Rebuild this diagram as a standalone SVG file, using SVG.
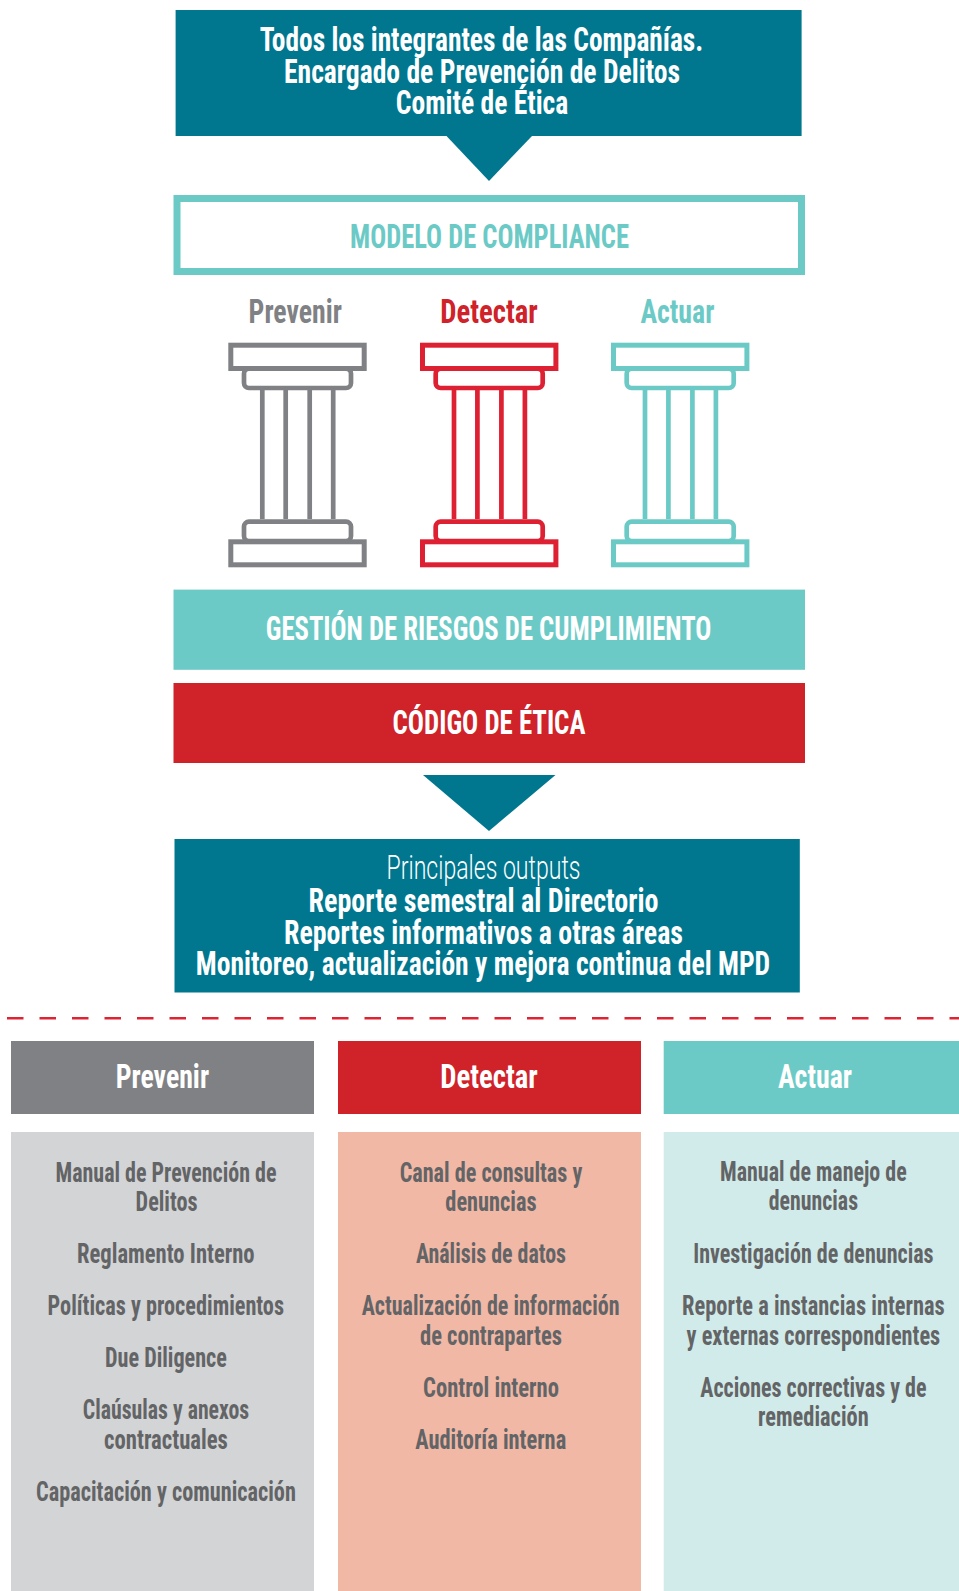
<svg xmlns="http://www.w3.org/2000/svg" width="959" height="1591" viewBox="0 0 959 1591">
<style>
text{font-family:"Liberation Sans Narrow","Roboto Condensed","Liberation Sans",sans-serif;text-anchor:middle;font-weight:700}
.w{fill:#fff}
.big{font-size:33px}
.lt{font-family:"Roboto","Liberation Sans",sans-serif;font-weight:300}
.body{font-size:27px;fill:#636466}
.ln{fill:none;stroke:currentColor;stroke-width:5}
.th{fill:none;stroke:currentColor;stroke-width:4.7}
</style>
<defs>
<g id="pillar">
<rect class="ln" x="230.8" y="345.2" width="133.4" height="23.3"/>
<rect class="th" x="244" y="368.7" width="107" height="19.3" rx="5"/>
<path class="th" d="M262.3 390V519M285.7 390V519M309.7 390V519M333.2 390V519"/>
<rect class="th" x="244" y="521.6" width="107" height="19.4" rx="5"/>
<rect class="ln" x="230.8" y="541.8" width="133.4" height="23"/>
</g>
</defs>
<rect width="959" height="1591" fill="#fff"/>
<g id="connectors" fill="#00778F">
<path d="M446.5 136H532L489 181Z"/>
<path d="M423 775H555.5L489 831Z"/>
<path d="M7 1018.3H959" fill="none" stroke="#DE2433" stroke-width="2.6" stroke-dasharray="16.5 16"/>
</g>
<g id="node-responsables">
<rect x="175.6" y="10" width="626" height="126" fill="#00778F"/>
<text class="big w" x="481.5" y="51" textLength="443.5" lengthAdjust="spacingAndGlyphs">Todos los integrantes de las Compañías.</text>
<text class="big w" x="482" y="82.5" textLength="396" lengthAdjust="spacingAndGlyphs">Encargado de Prevención de Delitos</text>
<text class="big w" x="482" y="114" textLength="172.5" lengthAdjust="spacingAndGlyphs">Comité de Ética</text>
</g>
<g id="node-modelo">
<rect x="177" y="198.5" width="624.5" height="73" fill="#fff" stroke="#6CCAC6" stroke-width="7"/>
<text class="big" fill="#6CCAC6" x="489.5" y="248" textLength="279" lengthAdjust="spacingAndGlyphs">MODELO DE COMPLIANCE</text>
</g>
<g id="node-pilar-prevenir" color="#808184">
<text class="big" fill="#808184" x="295.3" y="323" textLength="93.4" lengthAdjust="spacingAndGlyphs">Prevenir</text>
<use href="#pillar"/>
</g>
<g id="node-pilar-detectar" color="#DE2033">
<text class="big" fill="#CF2229" x="489" y="323" textLength="97.4" lengthAdjust="spacingAndGlyphs">Detectar</text>
<use href="#pillar" x="191.7"/>
</g>
<g id="node-pilar-actuar" color="#6CCAC6">
<text class="big" fill="#6CCAC6" x="677.4" y="323" textLength="74" lengthAdjust="spacingAndGlyphs">Actuar</text>
<use href="#pillar" x="382.7"/>
</g>
<g id="node-gestion">
<rect x="173.5" y="589.6" width="631.5" height="80.2" fill="#6CCAC6"/>
<text class="big w" x="488.6" y="639.5" textLength="445.5" lengthAdjust="spacingAndGlyphs">GESTIÓN DE RIESGOS DE CUMPLIMIENTO</text>
</g>
<g id="node-codigo">
<rect x="173.5" y="683" width="631.5" height="80" fill="#CF2229"/>
<text class="big w" x="489" y="734" textLength="192.8" lengthAdjust="spacingAndGlyphs">CÓDIGO DE ÉTICA</text>
</g>
<g id="node-outputs">
<rect x="174.5" y="839" width="625.3" height="153.5" fill="#00778F"/>
<text class="big w lt" x="483.5" y="879" textLength="194" lengthAdjust="spacingAndGlyphs">Principales outputs</text>
<text class="big w" x="483.5" y="912" textLength="350" lengthAdjust="spacingAndGlyphs">Reporte semestral al Directorio</text>
<text class="big w" x="483.5" y="944" textLength="399" lengthAdjust="spacingAndGlyphs">Reportes informativos a otras áreas</text>
<text class="big w" x="483" y="975" textLength="574.4" lengthAdjust="spacingAndGlyphs">Monitoreo, actualización y mejora continua del MPD</text>
</g>
<g id="node-col-prevenir">
<rect x="11" y="1041" width="303" height="73" fill="#808184"/>
<text class="big w" x="162.4" y="1088" textLength="93.4" lengthAdjust="spacingAndGlyphs">Prevenir</text>
<rect x="11" y="1132" width="303" height="459" fill="#D3D4D6"/>
<text class="body" x="166" y="1181.5" textLength="221" lengthAdjust="spacingAndGlyphs">Manual de Prevención de</text>
<text class="body" x="166.6" y="1210.5" textLength="62" lengthAdjust="spacingAndGlyphs">Delitos</text>
<text class="body" x="165.8" y="1263" textLength="177.6" lengthAdjust="spacingAndGlyphs">Reglamento Interno</text>
<text class="body" x="165.8" y="1315" textLength="236.5" lengthAdjust="spacingAndGlyphs">Políticas y procedimientos</text>
<text class="body" x="166" y="1367" textLength="121.8" lengthAdjust="spacingAndGlyphs">Due Diligence</text>
<text class="body" x="166" y="1418.7" textLength="166.4" lengthAdjust="spacingAndGlyphs">Claúsulas y anexos</text>
<text class="body" x="166" y="1449" textLength="123.8" lengthAdjust="spacingAndGlyphs">contractuales</text>
<text class="body" x="166" y="1501" textLength="259.8" lengthAdjust="spacingAndGlyphs">Capacitación y comunicación</text>
</g>
<g id="node-col-detectar">
<rect x="338" y="1041" width="303" height="73" fill="#CF2229"/>
<text class="big w" x="489" y="1088" textLength="97.4" lengthAdjust="spacingAndGlyphs">Detectar</text>
<rect x="338" y="1132" width="303" height="459" fill="#F1B8A6"/>
<text class="body" x="491" y="1181.5" textLength="182.7" lengthAdjust="spacingAndGlyphs">Canal de consultas y</text>
<text class="body" x="491" y="1210.5" textLength="91.3" lengthAdjust="spacingAndGlyphs">denuncias</text>
<text class="body" x="491" y="1263" textLength="150.2" lengthAdjust="spacingAndGlyphs">Análisis de datos</text>
<text class="body" x="490.6" y="1315" textLength="257.8" lengthAdjust="spacingAndGlyphs">Actualización de información</text>
<text class="body" x="491" y="1344.6" textLength="142" lengthAdjust="spacingAndGlyphs">de contrapartes</text>
<text class="body" x="491" y="1397" textLength="136" lengthAdjust="spacingAndGlyphs">Control interno</text>
<text class="body" x="490.7" y="1449" textLength="151" lengthAdjust="spacingAndGlyphs">Auditoría interna</text>
</g>
<g id="node-col-actuar">
<rect x="663.7" y="1041" width="295.3" height="73" fill="#6CCAC6"/>
<text class="big w" x="815" y="1088" textLength="74" lengthAdjust="spacingAndGlyphs">Actuar</text>
<rect x="663.7" y="1132" width="295.3" height="459" fill="#D1EBEA"/>
<g transform="translate(813.4 0) scale(.85 1)">
<text class="body" x="0" y="1181.5" textLength="219.6" lengthAdjust="spacingAndGlyphs">Manual de manejo de</text>
<text class="body" x="0" y="1210.5" textLength="105.1" lengthAdjust="spacingAndGlyphs">denuncias</text>
<text class="body" x="0" y="1263" textLength="282.9" lengthAdjust="spacingAndGlyphs">Investigación de denuncias</text>
<text class="body" x="0" y="1315" textLength="309.2" lengthAdjust="spacingAndGlyphs">Reporte a instancias internas</text>
<text class="body" x="0" y="1344.6" textLength="298.5" lengthAdjust="spacingAndGlyphs">y externas correspondientes</text>
<text class="body" x="0" y="1397" textLength="266.2" lengthAdjust="spacingAndGlyphs">Acciones correctivas y de</text>
<text class="body" x="0" y="1426" textLength="130.1" lengthAdjust="spacingAndGlyphs">remediación</text>
</g>
</g>
</svg>
